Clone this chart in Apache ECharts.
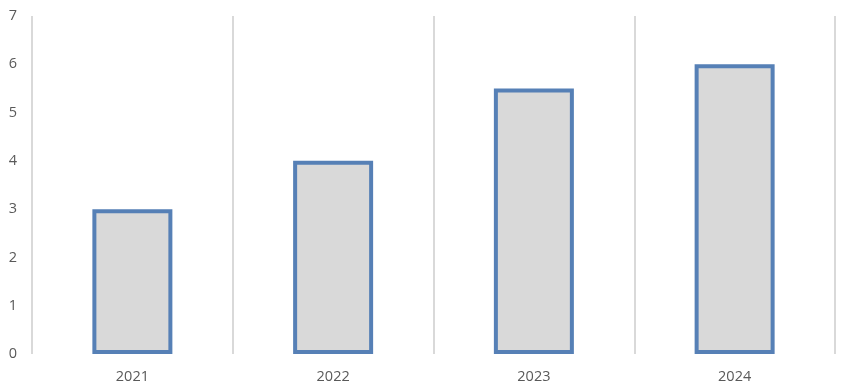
<!DOCTYPE html>
<html><head><meta charset="utf-8">
<script src="https://cdn.jsdelivr.net/npm/echarts@6/dist/echarts.min.js"></script>
<style>html,body{margin:0;padding:0;background:#fff}#c{width:847px;height:389px}</style>
</head><body><div id="c"></div>
<script>
const categories = ['2021', '2022', '2023', '2024'];
const values = [3, 4, 5.5, 6];
const yTicks = [0, 1, 2, 3, 4, 5, 6, 7];

const chart = echarts.init(document.getElementById('c'));
const font = 'Open Sans, Liberation Sans, sans-serif';
chart.setOption({
  animation: false,
  grid: { left: 32, right: 12, top: 16, bottom: 35, containLabel: false },
  xAxis: {
    type: 'category', data: categories, boundaryGap: true,
    axisLine: { show: false }, axisTick: { show: false },
    axisLabel: { color: '#595959', fontSize: 14.5, fontFamily: font, margin: 15 },
    splitLine: { show: true, lineStyle: { color: '#d9d9d9', width: 2 } }
  },
  yAxis: {
    type: 'value', min: yTicks[0], max: yTicks[yTicks.length - 1], interval: 1,
    axisLine: { show: false }, axisTick: { show: false }, splitLine: { show: false },
    axisLabel: { color: '#595959', fontSize: 14.5, fontFamily: font, margin: 15 }
  },
  series: [{
    type: 'bar', data: values, barWidth: 80,
    itemStyle: { color: '#d9d9d9', borderColor: '#5680b6', borderWidth: 4 }
  }]
});
</script></body></html>
